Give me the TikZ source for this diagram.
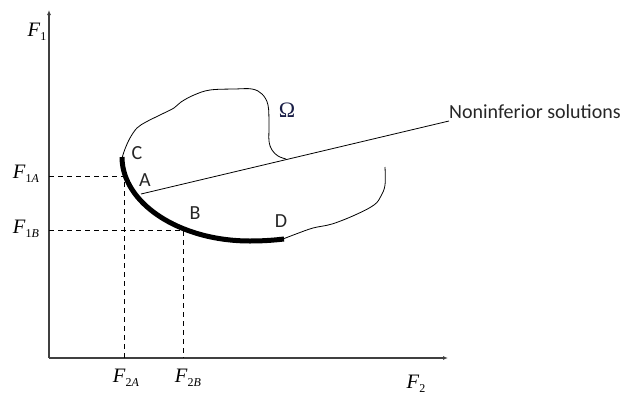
\documentclass[tikz,border=0pt]{standalone}
\usepackage{fontspec}
\setmainfont{Liberation Serif}
\newfontfamily\lblfont{Carlito}
\usetikzlibrary{arrows.meta}
\definecolor{omegacol}{RGB}{25,30,70}
\tikzset{
  axis/.style={draw=black!75, line width=1.3pt, -{Latex[length=5pt,width=4pt]}},
  guide/.style={draw=black, line width=0.8pt, dash pattern=on 5pt off 4pt},
  thin/.style={draw=black, line width=0.8pt},
  front/.style={draw=black, line width=5pt},
  flabel/.style={font=\fontsize{20.5}{20.5}\selectfont, inner sep=0pt},
  ptlabel/.style={font=\lblfont\fontsize{20}{20}\selectfont, inner sep=0pt, text=black!85},
}
\newcommand{\flab}[2]{\textit{F}\raisebox{-0.45ex}{\fontsize{12}{12}\selectfont #1\textit{#2}}}
\begin{document}
\begin{tikzpicture}[x=1pt,y=-1pt]
\useasboundingbox (0,0) rectangle (628,399);
% axes
\coordinate (O) at (49,358);
\coordinate (ytop) at (49,10);
\coordinate (xend) at (448,358);
\draw[axis] (O) -- (ytop);
\draw[axis] (O) -- (xend);
\node[flabel] (F1) at (37,32) {\flab{1}{}};
\node[flabel] (F2) at (416,384) {\flab{2}{}};
% guides
\coordinate (PA) at (124,176);
\coordinate (PB) at (183,230);
\coordinate (yA) at (49,176);
\coordinate (yB) at (49,230);
\coordinate (xA) at (124,358);
\coordinate (xB) at (183,358);
\draw[guide] (yA) -- (PA) -- (xA);
\draw[guide] (yB) -- (PB) -- (xB);
\node[flabel] (F1A) at (26,174) {\flab{1}{A}};
\node[flabel] (F1B) at (26,229) {\flab{1}{B}};
\node[flabel] (F2A) at (126,378) {\flab{2}{A}};
\node[flabel] (F2B) at (188,378) {\flab{2}{B}};
% region boundary
\draw[thin] plot[smooth, tension=0.6] coordinates {(122,158) (125,149) (130,138) (137,128) (146,122) (160,115) (174,108) (181,102) (194,95) (210,90) (235,89) (252,89) (262,94) (268,105) (269,125) (269,141) (272,150) (278,156) (286,159)};
\draw[thin] plot[smooth, tension=0.6] coordinates {(385,167) (385,185) (381,196) (374,205) (355,215) (332,224) (313,228) (296,234) (283,239)};
% noninferior front
\coordinate (Cpt) at (122,157);
\coordinate (Bot) at (250,241);
\coordinate (Dpt) at (284,239);
\draw[front] (Cpt) .. controls (122,203) and (179,241) .. (Bot) .. controls (265,241) and (275,240) .. (Dpt);
\node[ptlabel] (C) at (137,153) {C};
\node[ptlabel] (A) at (145,180) {A};
\node[ptlabel] (B) at (195,213) {B};
\node[ptlabel] (D) at (281,221) {D};
\node[font=\fontsize{22}{22}\selectfont, inner sep=0pt, text=omegacol] (Om) at (287,110) {Ω};
% leader
\node[ptlabel, anchor=west] (NS) at (449,112) {Noninferior solutions};
\coordinate (PL) at (141,194);
\draw[thin] (PL) -- (NS.west|-0,121);
\end{tikzpicture}
\end{document}
